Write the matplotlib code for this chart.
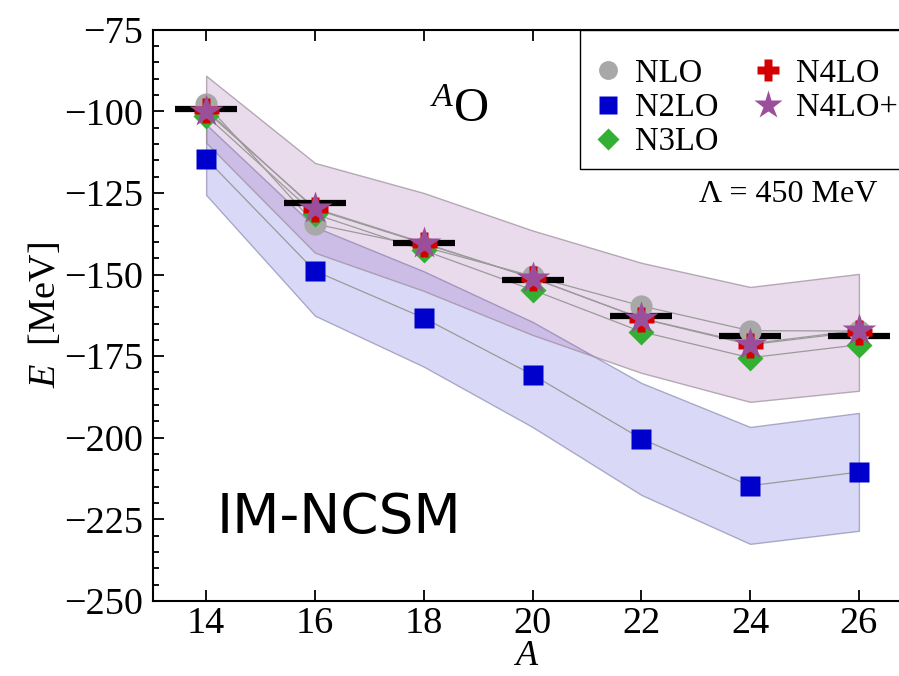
import numpy as np
import matplotlib
matplotlib.use("Agg")
import matplotlib.pyplot as plt
from matplotlib.ticker import MultipleLocator

plt.rcParams['font.family'] = ['Liberation Serif', 'DejaVu Serif']
plt.rcParams['mathtext.fontset'] = 'custom'
plt.rcParams['mathtext.rm'] = 'Liberation Serif'
plt.rcParams['mathtext.it'] = 'Liberation Serif:italic'

# mass numbers of the oxygen isotopes
A = [14, 16, 18, 20, 22, 24, 26]

# experiment (black bars)
E_exp = [-99.2, -128.0, -140.3, -151.8, -162.6, -168.9, -168.9]

# IM-NCSM ground state energies per chiral order
E_nlo = [-97.8, -134.5, -141.5, -150.5, -159.6, -167.2, -167.3]
E_n2lo = [-114.5, -148.9, -163.3, -180.7, -200.3, -214.7, -210.5]
E_n3lo = [-101.3, -131.5, -142.6, -154.7, -167.5, -175.5, -171.5]
E_n4lo = [-99.5, -130.0, -140.5, -151.0, -163.5, -171.5, -167.5]
E_n4lop = [-100.0, -129.7, -140.3, -151.1, -163.4, -171.2, -167.1]

# uncertainty bands
n2lo_lo = [-125.6, -162.6, -178.2, -196.7, -217.5, -232.5, -228.5]
n2lo_hi = [-104.0, -135.4, -149.0, -164.5, -183.2, -196.7, -192.4]
n4lop_lo = [-109.6, -143.3, -155.0, -168.5, -180.1, -189.0, -185.6]
n4lop_hi = [-89.1, -115.8, -125.0, -136.5, -146.4, -153.8, -149.8]

fig = plt.figure(figsize=(8.99, 6.76), dpi=100)
ax = fig.add_axes([0.170, 0.111, 0.832, 0.845])

ax.fill_between(A, n2lo_lo, n2lo_hi, facecolor=(0, 0, 0.8, 0.15),
                edgecolor=(0.55, 0.55, 0.7, 0.7), lw=1.0, zorder=1)
ax.fill_between(A, n4lop_lo, n4lop_hi, facecolor=(0.596, 0.306, 0.639, 0.2),
                edgecolor=(0.6, 0.55, 0.6, 0.7), lw=1.0, zorder=1)

for ys in [E_nlo, E_n2lo, E_n3lo, E_n4lo, E_n4lop]:
    ax.plot(A, ys, color='#9a9a9a', lw=0.9, zorder=2)

ax.hlines(E_exp, np.array(A) - 0.57, np.array(A) + 0.57, color='black',
          lw=4.5, zorder=3)

ax.plot(A, E_nlo, ls='none', marker='o', ms=16, color='#a8a8a8', mec='none',
        label='NLO', zorder=4)
ax.plot(A, E_n2lo, ls='none', marker='s', ms=15, color='#0000cc', mec='none',
        label='N2LO', zorder=5)
ax.plot(A, E_n3lo, ls='none', marker='D', ms=13.5, color='#33b033', mec='none',
        label='N3LO', zorder=6)
ax.plot(A, E_n4lo, ls='none', marker='P', ms=18, color='#d40000', mec='none',
        label='N4LO', zorder=7)
ax.plot(A, E_n4lop, ls='none', marker='*', ms=25, color='#9b4f9b', mec='none',
        label='N4LO+', zorder=8)

ax.set_xlim(13.02, 26.77)
ax.set_ylim(-250, -75)
ax.set_xticks(A)
ax.yaxis.set_major_locator(MultipleLocator(25))
ax.yaxis.set_minor_locator(MultipleLocator(5))
ax.tick_params(which='both', direction='in', top=True, right=False,
               labelsize=27.5, width=1.3)
ax.tick_params(axis='y', pad=7)
ax.tick_params(axis='x', pad=4)
ax.tick_params(which='major', length=8)
ax.tick_params(which='minor', length=4)
for s in ax.spines.values():
    s.set_linewidth(1.5)
ax.spines['right'].set_visible(False)

ax.set_xlabel(r'$A$', fontsize=26, labelpad=-1)
ax.set_ylabel(r'$E$  [MeV]', fontsize=27.5, labelpad=1)

ax.text(0.41, 0.839, r'$^{A}\mathrm{O}$', transform=ax.transAxes,
        fontsize=35, ha='center', va='baseline')
ax.text(0.7306, 0.699, 'Λ = 450 MeV', transform=ax.transAxes,
        fontsize=23, ha='left', va='baseline')
ax.text(0.0858, 0.119, 'IM-NCSM', transform=ax.transAxes,
        fontsize=39.5, family='DejaVu Sans', ha='left', va='baseline')

leg = ax.legend(loc='upper left', bbox_to_anchor=(0.571, 1.0), ncol=2,
                fontsize=23.5, frameon=True, fancybox=False, framealpha=1,
                edgecolor='black', borderaxespad=0, borderpad=0.35,
                handlelength=1.0, handletextpad=0.35, columnspacing=1.0,
                labelspacing=0.12, markerscale=0.85,
                title=' ', title_fontsize=10)
leg.get_frame().set_linewidth(1.0)

fig.savefig('out.png', dpi=100)
